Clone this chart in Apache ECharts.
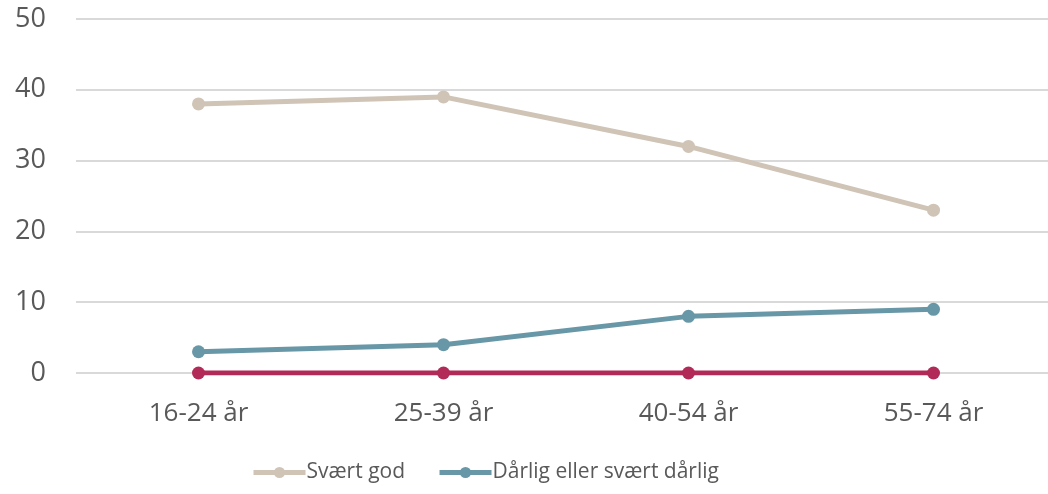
<!DOCTYPE html>
<html>
<head>
<meta charset="utf-8">
<script src="https://cdn.jsdelivr.net/npm/echarts@6/dist/echarts.min.js"></script>
<style>
  html, body { margin: 0; padding: 0; background: #fff; }
  #chart { width: 1048px; height: 494px; }
</style>
</head>
<body>
<div id="chart"></div>
<script>
// aldersgrupper
var categories = ['16-24 år', '25-39 år', '40-54 år', '55-74 år'];
var yTicks = [0, 10, 20, 30, 40, 50];

var svaertGod = [38, 39, 32, 23];
var daarlig = [3, 4, 8, 9];
var nullLinje = [0, 0, 0, 0];

var chart = echarts.init(document.getElementById('chart'));

function lineSeries(name, data, color) {
	return {
		name: name,
		type: 'line',
		data: data,
		symbol: 'circle',
		symbolSize: 13,
		lineStyle: { width: 5, color: color },
		itemStyle: { color: color },
		animation: false
	};
}

var option = {
	textStyle: { fontFamily: 'Open Sans' },
	grid: { left: 76, width: 980, top: 19, bottom: 121, outerBoundsMode: 'none' },
	legend: {
		data: ['Svært god', 'Dårlig eller svært dårlig'],
		bottom: 6,
		left: 246,
		itemWidth: 52,
		itemHeight: 14,
		itemGap: 32,
		lineStyle: { width: 5 },
		textStyle: { fontSize: 21, color: '#595959', padding: [0, 0, 0, -4] }
	},
	xAxis: {
		type: 'category',
		data: categories,
		axisLine: { show: false },
		axisTick: { show: false },
		axisLabel: { fontSize: 26, color: '#595959', margin: 28 }
	},
	yAxis: {
		type: 'value',
		min: yTicks[0],
		max: yTicks[yTicks.length - 1],
		interval: 10,
		axisLine: { show: false },
		axisTick: { show: false },
		axisLabel: { fontSize: 27, color: '#595959', margin: 30 },
		splitLine: { lineStyle: { color: '#d9d9d9', width: 2 } }
	},
	series: [
		lineSeries('Ingen', nullLinje, '#b22a58'),
		lineSeries('Svært god', svaertGod, '#cfc4b6'),
		lineSeries('Dårlig eller svært dårlig', daarlig, '#6897a7')
	]
};

chart.setOption(option);
</script>
</body>
</html>
